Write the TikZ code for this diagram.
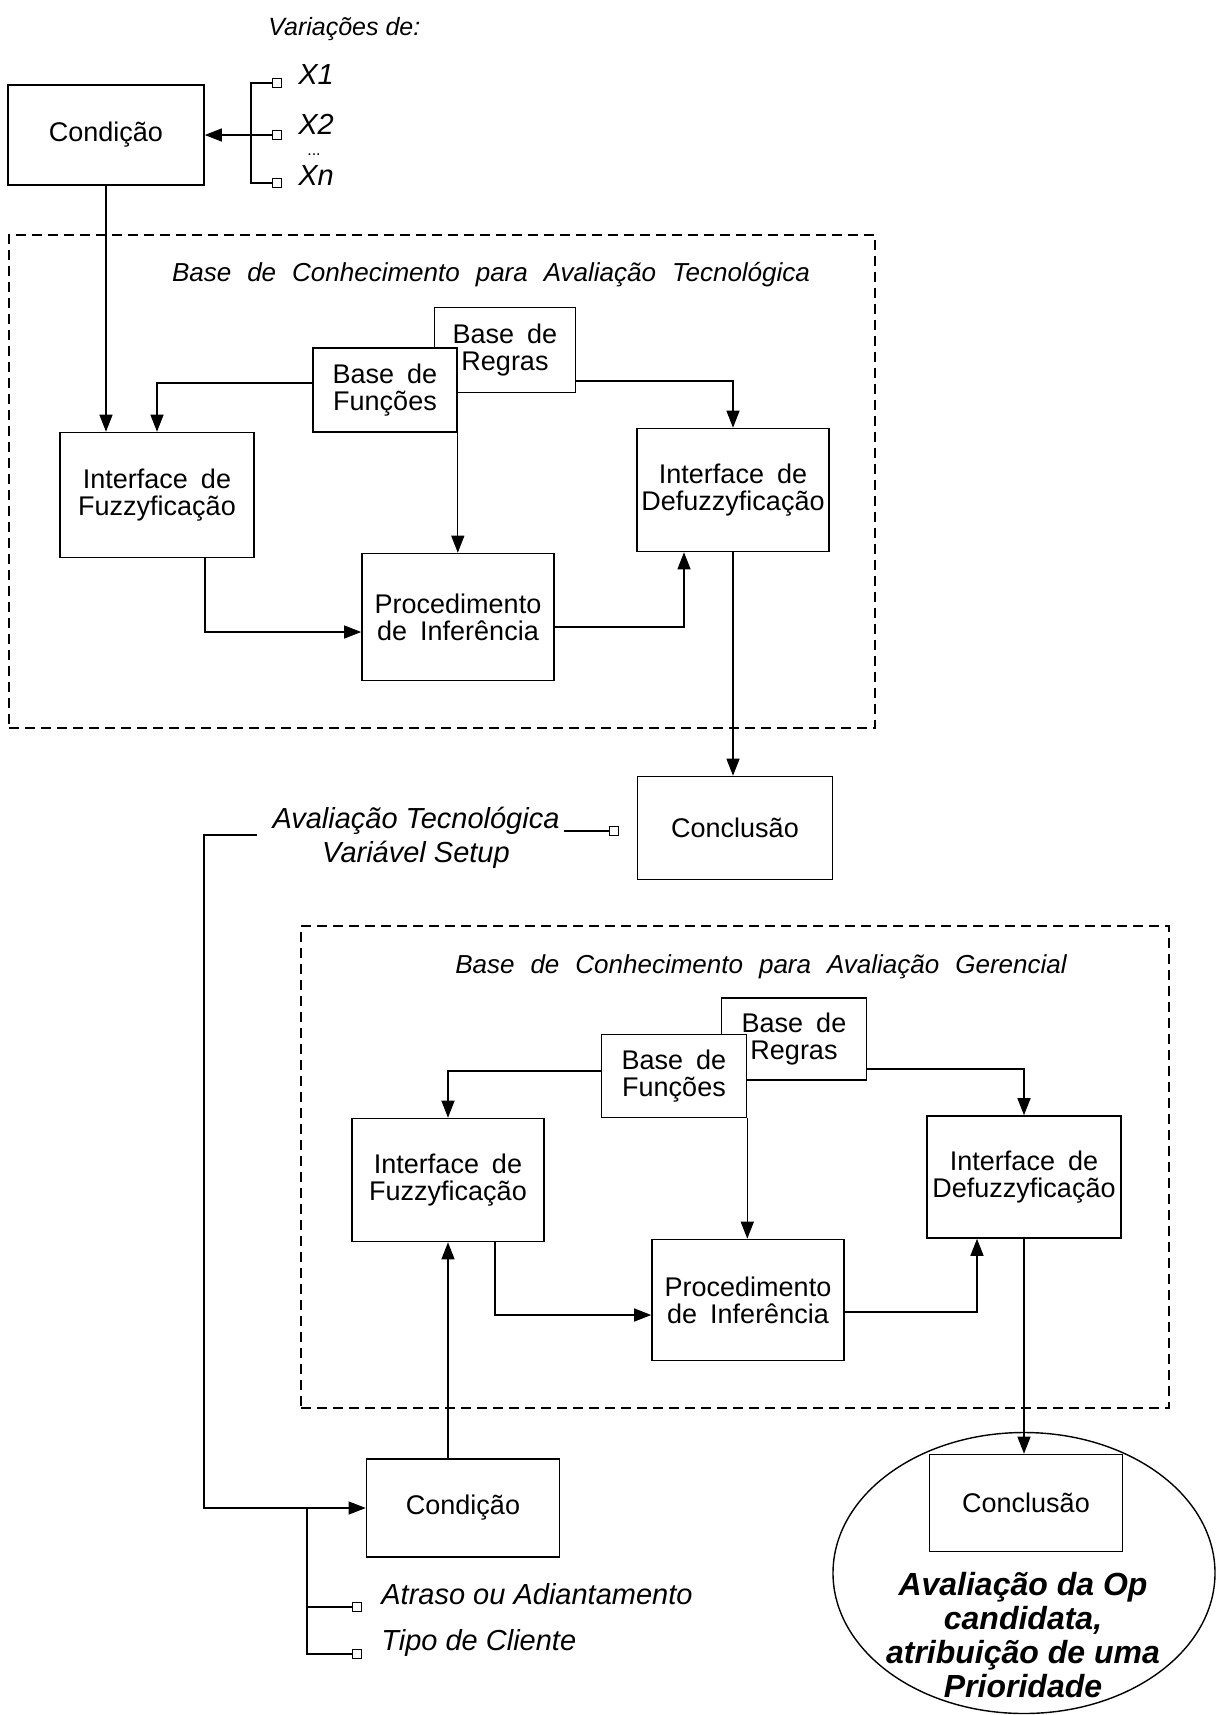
\documentclass[tikz,border=0pt]{standalone}
\usepackage{fontspec}
\setmainfont{Liberation Sans}
\usetikzlibrary{arrows.meta,shapes.geometric,calc}
\newcommand\wsp{\hspace{8pt}}
\newcommand\bsp{\hspace{6.5pt}}
\begin{document}
\begin{tikzpicture}[x=0.5pt,y=-0.5pt,
  box/.style={draw, line width=0.8pt, fill=white, align=center, inner sep=0pt,
    font=\fontsize{13.5}{13.5}\selectfont},
  conn/.style={line width=0.6pt},
  arr/.style={conn, -{Triangle[length=8.5pt,width=6.5pt]}},
  kbox/.style={draw, dash pattern=on 5pt off 3pt, line width=0.6pt, inner sep=0pt},
  sq/.style={draw, line width=0.5pt, fill=white, minimum size=4.5pt, inner sep=0pt},
  lbl/.style={font=\fontsize{14.5}{17}\selectfont\itshape, inner sep=0pt},
  ttl/.style={font=\fontsize{13}{13}\selectfont\itshape, inner sep=0pt},
  concl/.style={font=\fontsize{16}{17}\selectfont\bfseries\itshape, align=center, inner sep=0pt},
]
\fill[white] (0,0) rectangle (1226,1715);
\useasboundingbox (0,0) rectangle (1226,1715);

% ---------- top inputs ----------
\node[font=\fontsize{12.5}{12.5}\selectfont\itshape, anchor=west, inner sep=0pt] (var) at (268,29) {Variações de:};
\node[box, minimum width=98pt, minimum height=50pt] (cond1) at (106,135) {Condição};
\node[sq] (sq1) at (277,83) {};
\node[sq] (sq2) at (277,135) {};
\node[sq] (sq3) at (277,183) {};
\node[lbl, anchor=west] (x1) at (298,75) {X1};
\node[lbl, anchor=west] (x2) at (298,124) {X2};
\node[font=\fontsize{8}{8}\selectfont, inner sep=0pt] (dots) at (314,155) {...};
\node[lbl, anchor=west] (xn) at (298,176) {Xn};
\coordinate (br1t) at (251,83);
\coordinate (br1b) at (251,183);
\draw[conn] (sq1.west) -- (br1t) -- (br1b) -- (sq3.west);
\draw[arr] (sq2.west) -- (cond1.east);

% ---------- knowledge base 1 ----------
\node[kbox, minimum width=433pt, minimum height=246.5pt] (kb1) at (442,481.5) {};
\node[ttl] (t1) at (491,275) {Base\wsp de\wsp Conhecimento\wsp para\wsp Avaliação\wsp Tecnológica};
\node[box, minimum width=70.5pt, minimum height=42.5pt] (regr1) at (505,350) {Base\bsp de\\Regras};
\node[box, minimum width=72pt, minimum height=42pt] (func1) at (385,390) {Base\bsp de\\Funções};
\node[box, minimum width=97pt, minimum height=62.5pt] (fuzz1) at (157,495) {Interface\bsp de\\Fuzzyficação};
\node[box, minimum width=96pt, minimum height=61.5pt] (defz1) at (733,490) {Interface\bsp de\\Defuzzyficação};
\node[box, minimum width=96pt, minimum height=63.5pt] (proc1) at (458,617) {Procedimento\\de\bsp Inferência};

\draw[arr] (cond1.south) -- (cond1.south |- fuzz1.north);
\draw[arr] ([yshift=3.5pt]func1.west) -| (fuzz1.north);
\draw[arr] ([yshift=-15.5pt]regr1.east) -| (defz1.north);
\draw[arr] (func1.south east) -- (func1.south east |- proc1.north);
\draw[arr] ([xshift=24pt]fuzz1.south) |- ([yshift=-7.5pt]proc1.west);
\draw[arr] ([yshift=-5pt]proc1.east) -| ([xshift=-24.5pt]defz1.south);

% ---------- conclusion 1 ----------
\node[box, minimum width=97.5pt, minimum height=51.5pt] (concl1) at (735,828) {Conclusão};
\draw[arr] (defz1.south) -- (defz1.south |- concl1.north);
\node[lbl, align=center] (aval) at (416,838) {Avaliação Tecnológica\\Variável Setup};
\node[sq] (sq4) at (614,831) {};
\draw[conn] (aval.east |- sq4.west) ++(4,0) -- (sq4.west);
\coordinate (s1) at (257,835);
\coordinate (c2) at (204,835);

% ---------- knowledge base 2 ----------
\node[kbox, minimum width=434pt, minimum height=241pt] (kb2) at (735,1167) {};
\node[ttl] (t2) at (761,967) {Base\wsp de\wsp Conhecimento\wsp para\wsp Avaliação\wsp Gerencial};
\node[box, minimum width=72.5pt, minimum height=41pt] (regr2) at (794,1039) {Base\bsp de\\Regras};
\node[box, minimum width=72.5pt, minimum height=41.5pt] (func2) at (674,1076) {Base\bsp de\\Funções};
\node[box, minimum width=96pt, minimum height=61.5pt] (fuzz2) at (448,1180) {Interface\bsp de\\Fuzzyficação};
\node[box, minimum width=97pt, minimum height=61pt] (defz2) at (1024,1177) {Interface\bsp de\\Defuzzyficação};
\node[box, minimum width=96pt, minimum height=60.5pt] (proc2) at (748,1300) {Procedimento\\de\bsp Inferência};

\draw[arr] ([yshift=2.5pt]func2.west) -| (fuzz2.north);
\draw[arr] ([yshift=-15pt]regr2.east) -| (defz2.north);
\draw[arr] (func2.south east) -- (func2.south east |- proc2.north);
\draw[arr] ([xshift=23.5pt]fuzz2.south) |- ([yshift=-7.5pt]proc2.west);
\draw[arr] ([yshift=-6pt]proc2.east) -| ([xshift=-23.5pt]defz2.south);

% ---------- condition 2 ----------
\node[box, minimum width=96.5pt, minimum height=49pt] (cond2) at (463,1508) {Condição};
\draw[arr] (fuzz2.south |- cond2.north) -- (fuzz2.south);
\draw[arr] (s1) -- (c2) |- (cond2.west);
\node[sq] (sq5) at (357,1607) {};
\node[sq] (sq6) at (357,1654) {};
\coordinate (br2) at (307,1508);
\draw[conn] (br2) |- (sq6.west);
\draw[conn] (br2 |- sq5.west) -- (sq5.west);
\node[lbl, anchor=west] (atr) at (381,1594) {Atraso ou Adiantamento};
\node[lbl, anchor=west] (tip) at (381,1643) {Tipo de Cliente};

% ---------- conclusion 2 ----------
\node[draw, ellipse, line width=0.7pt, minimum width=191pt, minimum height=140.5pt, inner sep=0pt] (ell) at (1024,1573) {};
\node[box, minimum width=96.5pt, minimum height=48.5pt] (concl2) at (1026,1503) {Conclusão};
\draw[arr] (defz2.south) -- (defz2.south |- concl2.north);
\node[concl] (res) at (1023,1635) {Avaliação da Op\\candidata,\\atribuição de uma\\Prioridade};
\end{tikzpicture}
\end{document}
